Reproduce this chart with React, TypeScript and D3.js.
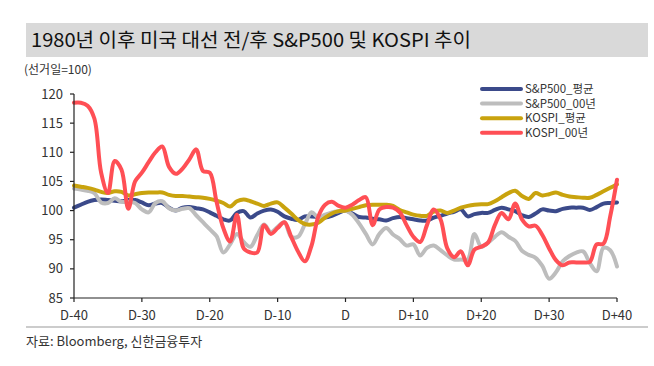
import React from "react";
import * as d3 from "d3";

const days: number[] = Array.from({ length: 81 }, (_, i) => i - 40);

const spAvg: number[] = [
  100.5, 101.0, 101.5, 101.8, 101.9, 101.8, 101.7, 101.6, 101.8, 101.8,
  101.4, 100.9, 101.2, 101.3, 100.5, 100.0, 100.5, 100.6, 100.4, 100.2,
  99.7, 99.1, 98.5, 98.3, 99.6, 99.9, 98.8, 99.5, 100.0, 100.2,
  99.8, 99.0, 98.6, 98.4, 99.0, 99.0, 98.9, 98.8, 99.1, 99.6,
  100.0,
  99.5, 98.9, 98.8, 98.6, 98.5, 98.3, 98.7, 98.9, 98.7, 98.5,
  98.3, 98.3, 98.8, 99.1, 99.5, 99.8, 100.2, 99.0, 99.4, 99.6,
  99.6, 100.1, 100.5, 100.2, 99.9, 99.2, 98.9, 99.5, 100.2, 100.0,
  99.9, 100.3, 100.5, 100.5, 100.5, 100.1, 100.6, 101.2, 101.3, 101.4,
];

const sp00: number[] = [
  103.8, 103.6, 103.4, 103.0, 101.4, 101.3, 102.1, 101.5, 101.5, 101.3,
  100.2, 99.7, 101.3, 101.6, 100.4, 100.0, 100.3, 100.4, 99.2, 98.0,
  96.8, 95.6, 92.8, 94.2, 96.0, 94.6, 93.8, 95.8, 97.6, 96.3,
  97.2, 98.0, 95.5, 95.5, 97.6, 99.7, 98.8, 99.3, 99.7, 99.9,
  100.0,
  99.3, 97.8, 96.0, 94.2, 96.0, 97.0, 95.9, 95.1, 94.0, 94.2,
  92.3, 93.6, 94.0, 93.2, 92.3, 91.6, 91.6, 91.6, 96.0, 93.8,
  94.5, 95.5, 96.3, 95.5, 94.8, 93.1, 92.4, 91.9, 90.5, 88.3,
  89.4, 91.3, 92.2, 92.8, 93.0, 91.0, 89.6, 93.6, 93.2, 90.4,
];

const kospiAvg: number[] = [
  104.3, 104.1, 103.9, 103.6, 103.2, 103.0, 103.3, 103.2, 102.6, 102.8,
  103.0, 103.1, 103.1, 103.1, 102.7, 102.5, 102.5, 102.4, 102.3, 102.2,
  102.0, 101.7, 101.3, 100.7, 101.6, 101.9, 101.6, 101.2, 100.8, 101.2,
  101.4, 100.5, 99.5, 98.4, 97.7, 97.6, 97.9, 98.8, 99.5, 99.9,
  100.0,
  100.3, 100.6, 100.9, 101.0, 101.0, 101.0, 100.8, 100.1, 99.7, 99.3,
  99.1, 99.1, 99.8, 100.0, 99.6, 100.0, 100.5, 100.8, 101.0, 101.1,
  101.1, 101.6, 102.3, 103.0, 103.4, 102.5, 102.0, 103.0, 102.6, 102.8,
  103.1, 102.7, 102.4, 102.3, 102.2, 102.2, 102.7, 103.3, 103.9, 104.5,
];

const kospi00: number[] = [
  118.5, 118.5, 118.0, 115.8, 106.5, 103.0, 108.5, 107.0, 100.3, 105.0,
  106.5, 108.3, 110.0, 111.0, 107.5, 106.3, 107.2, 108.8, 110.5, 106.8,
  106.5, 101.5, 97.0, 94.7, 99.3, 93.5, 92.8, 92.8, 97.5, 96.0,
  97.0, 98.0, 95.5, 93.0, 91.3, 94.0, 99.0, 101.0, 101.5, 100.8,
  100.5,
  101.0, 101.8, 102.3, 97.5, 100.2, 100.6, 100.5, 99.7, 97.5, 95.5,
  94.6, 97.5, 100.2, 98.5, 93.5, 92.0, 93.0, 90.6, 93.3, 93.8,
  94.5, 97.5, 99.6, 98.5, 101.2, 98.5, 97.3, 97.4, 95.8, 93.5,
  91.5, 90.6, 91.1, 91.1, 91.1, 91.2, 94.2, 94.3, 99.0, 105.3,
];

const seriesNames: string[] = ["S&P500_평균", "S&P500_00년", "KOSPI_평균", "KOSPI_00년"];
const seriesColors: string[] = ["#3b4a8a", "#bdbdbd", "#c9a30e", "#ff4f55"];
const seriesValues: number[][] = [spAvg, sp00, kospiAvg, kospi00];

const yTicks: number[] = [85, 90, 95, 100, 105, 110, 115, 120];
const xTicks: number[] = [-40, -30, -20, -10, 0, 10, 20, 30, 40];
const xTickLabel = (d: number) => (d === 0 ? "D" : d > 0 ? `D+${d}` : `D${d}`);

const FONT = "'Noto Sans CJK KR', 'Noto Sans', sans-serif";

export default function App() {
  const W = 654;
  const H = 366;
  const left = 74;
  const right = 617;
  const top = 94;
  const bottom = 298;

  const x = d3.scaleLinear().domain([-40, 40]).range([left, right]);
  const y = d3.scaleLinear().domain([85, 120]).range([bottom, top]);

  const line = d3
    .line<number>()
    .x((_, i) => x(days[i]))
    .y((v) => y(v))
    .curve(d3.curveCatmullRom.alpha(0.5));

  return (
    <svg
      width={W}
      height={H}
      style={{ position: "absolute", left: 0, top: 0, background: "#fff" }}
      fontFamily={FONT}
    >
      <rect x={0} y={0} width={W} height={H} fill="#fff" />
      {/* title bar */}
      <rect x={26} y={23} width={622} height={34} fill="#d9d9d9" />
      <text x={31} y={47} fontSize={19} fill="#111" textLength={440} lengthAdjust="spacingAndGlyphs">
        1980년 이후 미국 대선 전/후 S&amp;P500 및 KOSPI 추이
      </text>
      <text x={24} y={74} fontSize={12} fill="#333">
        (선거일=100)
      </text>

      {/* series */}
      {seriesValues.map((vals, i) => (
        <path
          key={seriesNames[i]}
          d={line(vals) || ""}
          fill="none"
          stroke={seriesColors[i]}
          strokeWidth={4}
          strokeLinejoin="round"
          strokeLinecap="round"
        />
      ))}

      {/* y axis */}
      <line x1={left} x2={left} y1={top} y2={bottom} stroke="#222" strokeWidth={1.2} />
      {yTicks.map((t) => (
        <g key={t}>
          <line x1={left - 4} x2={left} y1={y(t)} y2={y(t)} stroke="#222" strokeWidth={1.2} />
          <text x={63} y={y(t)} dy="0.35em" textAnchor="end" fontSize={13} fill="#333">
            {t}
          </text>
        </g>
      ))}

      {/* x axis */}
      <line x1={left} x2={right} y1={bottom} y2={bottom} stroke="#222" strokeWidth={1.2} />
      {xTicks.map((t) => (
        <g key={t}>
          <line x1={x(t)} x2={x(t)} y1={bottom} y2={bottom + 4} stroke="#222" strokeWidth={1.2} />
          <text x={x(t)} y={320} textAnchor="middle" fontSize={13} fill="#333">
            {xTickLabel(t)}
          </text>
        </g>
      ))}

      {/* legend */}
      {seriesNames.map((n, i) => (
        <g key={n}>
          <line
            x1={482}
            x2={521}
            y1={89 + i * 14.6}
            y2={89 + i * 14.6}
            stroke={seriesColors[i]}
            strokeWidth={4}
            strokeLinecap="round"
          />
          <text x={525} y={89 + i * 14.6} dy="0.35em" fontSize={11.5} fill="#333">
            {n}
          </text>
        </g>
      ))}

      {/* footer */}
      <line x1={26} x2={648} y1={327} y2={327} stroke="#999" strokeWidth={1} />
      <text x={26} y={346} fontSize={13} fill="#333">
        자료: Bloomberg, 신한금융투자
      </text>
    </svg>
  );
}
